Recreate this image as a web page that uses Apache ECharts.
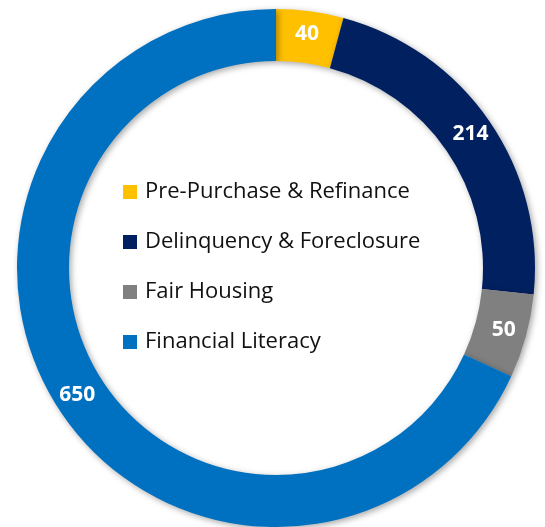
<!DOCTYPE html>
<html>
  <head>
    <meta charset="UTF-8" />
    <title>Counseling Donut</title>
    <script src="https://cdn.jsdelivr.net/npm/echarts@6.0.0/dist/echarts.min.js"></script>
  </head>
  <body style="margin: 0">
    <div id="donutChart" style="width: 545px; height: 527px"></div>
  </body>
  <script>
    // data
    let categories = ['Pre-Purchase & Refinance', 'Delinquency & Foreclosure', 'Fair Housing', 'Financial Literacy'];
    let counts = [40, 214, 50, 650];
    let colors = ['#FFC000', '#002060', '#808080', '#0070C0'];

    let myChart = echarts.init(document.getElementById('donutChart'));

    let pieData = [];
    categories.forEach((name, i) => {
      pieData.push({ name: name, value: counts[i], itemStyle: { color: colors[i] } });
    });

    myChart.setOption({
      animation: false,
      legend: {
        orient: 'vertical',
        left: 118,
        top: 176,
        itemWidth: 14,
        itemHeight: 14,
        itemGap: 28,
        icon: 'rect',
        textStyle: { fontFamily: 'Open Sans', fontSize: 22, color: '#111', padding: [0, 0, 0, 3] },
        data: categories
      },
      series: [
        {
          type: 'pie',
          center: [276, 268],
          radius: [207, 259],
          startAngle: 90,
          clockwise: true,
          label: {
            position: 'inside',
            formatter: '{c}',
            color: '#fff',
            fontFamily: 'Open Sans',
            fontWeight: 'bold',
            fontSize: 21
          },
          labelLine: { show: false },
          itemStyle: {
            shadowColor: 'rgba(0,0,0,0.35)',
            shadowBlur: 6,
            shadowOffsetX: 2,
            shadowOffsetY: 2
          },
          emphasis: { disabled: true },
          data: pieData
        }
      ]
    });
  </script>
</html>
